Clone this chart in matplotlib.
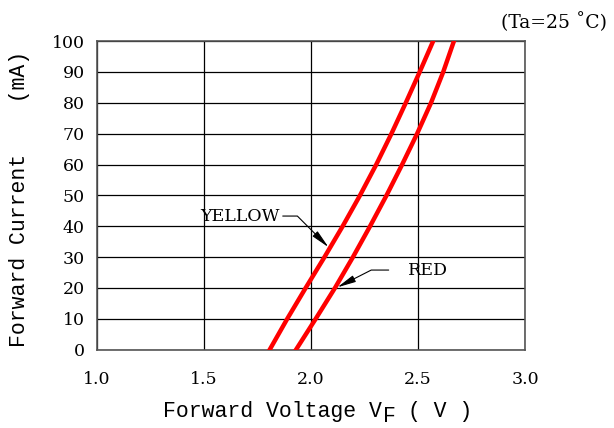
import matplotlib
matplotlib.use("Agg")
import matplotlib.pyplot as plt
import numpy as np

# forward current (mA) and forward voltage (V)
current_ma = [0, 10, 20, 30, 40, 50, 60, 70, 80, 90, 100]
vf_yellow = [1.807, 1.889, 1.975, 2.063, 2.148, 2.229, 2.305, 2.376, 2.443, 2.508, 2.571]
vf_red = [1.93, 2.022, 2.112, 2.196, 2.276, 2.353, 2.426, 2.496, 2.561, 2.618, 2.668]

x_ticks = [1.0, 1.5, 2.0, 2.5, 3.0]
y_ticks = [0, 10, 20, 30, 40, 50, 60, 70, 80, 90, 100]

plt.rcParams['font.family'] = ['DejaVu Serif']

W, H = 614, 428
fig = plt.figure(figsize=(W / 100, H / 100), dpi=100)
ax = fig.add_axes([0.158, 0.183, 0.697, 0.721])

ax.set_xlim(1.0, 3.0)
ax.set_ylim(0, 100)
ax.set_xticks(x_ticks)
ax.set_xticklabels(["%.1f" % v for v in x_ticks])
ax.set_yticks(y_ticks)
ax.tick_params(length=0, labelsize=12.5)
ax.tick_params(axis='x', pad=15)
ax.tick_params(axis='y', pad=9)
ax.grid(True, color='black', linewidth=0.9)
for s in ax.spines.values():
    s.set_color('#555555')
    s.set_linewidth(1.2)

ax.plot(vf_yellow, current_ma, color='#ff0000', linewidth=3.2, zorder=3)
ax.plot(vf_red, current_ma, color='#ff0000', linewidth=3.2, zorder=3)

# leaders to the curves
ax.annotate("YELLOW", xy=(2.082, 33.2), xytext=(1.855, 43.3),
            ha='right', va='center', fontsize=12.5,
            arrowprops=dict(arrowstyle="-|>,head_length=0.9,head_width=0.17",
                            connectionstyle="angle,angleA=0,angleB=135,rad=0",
                            color='black', lw=0.8, relpos=(1, 0.5),
                            shrinkA=0, shrinkB=0))
ax.annotate("RED", xy=(2.123, 20.2), xytext=(2.454, 25.8),
            ha='left', va='center', fontsize=12.5,
            arrowprops=dict(arrowstyle="-|>,head_length=0.9,head_width=0.17",
                            connectionstyle="angle,angleA=0,angleB=27,rad=0",
                            color='black', lw=0.8, relpos=(0, 0.5),
                            shrinkA=12, shrinkB=0))

# axis titles in a monospaced face, F of V_F set lower
mono = 'Liberation Mono'
fs = 15.5
cw = fs * 100 / 72 * 0.6  # character cell, px
x0, yb = 163, 412
fig.text(x0 / W, 1 - yb / H, "Forward Voltage V", family=mono, fontsize=fs,
         ha='left', va='center')
fig.text((x0 + 17 * cw) / W, 1 - (yb + 5) / H, "F", family=mono, fontsize=fs,
         ha='left', va='center')
fig.text((x0 + 18 * cw) / W, 1 - yb / H, " ( V )", family=mono, fontsize=fs,
         ha='left', va='center')
fig.text(20 / W, 1 - 199 / H, "Forward Current    (mA)", family=mono, fontsize=fs,
         ha='center', va='center', rotation=90)

fig.text(0.988, 1 - 22 / H, "(Ta=25 \u02daC)", ha='right', va='center', fontsize=13.5)

fig.savefig("out.png", dpi=100)
